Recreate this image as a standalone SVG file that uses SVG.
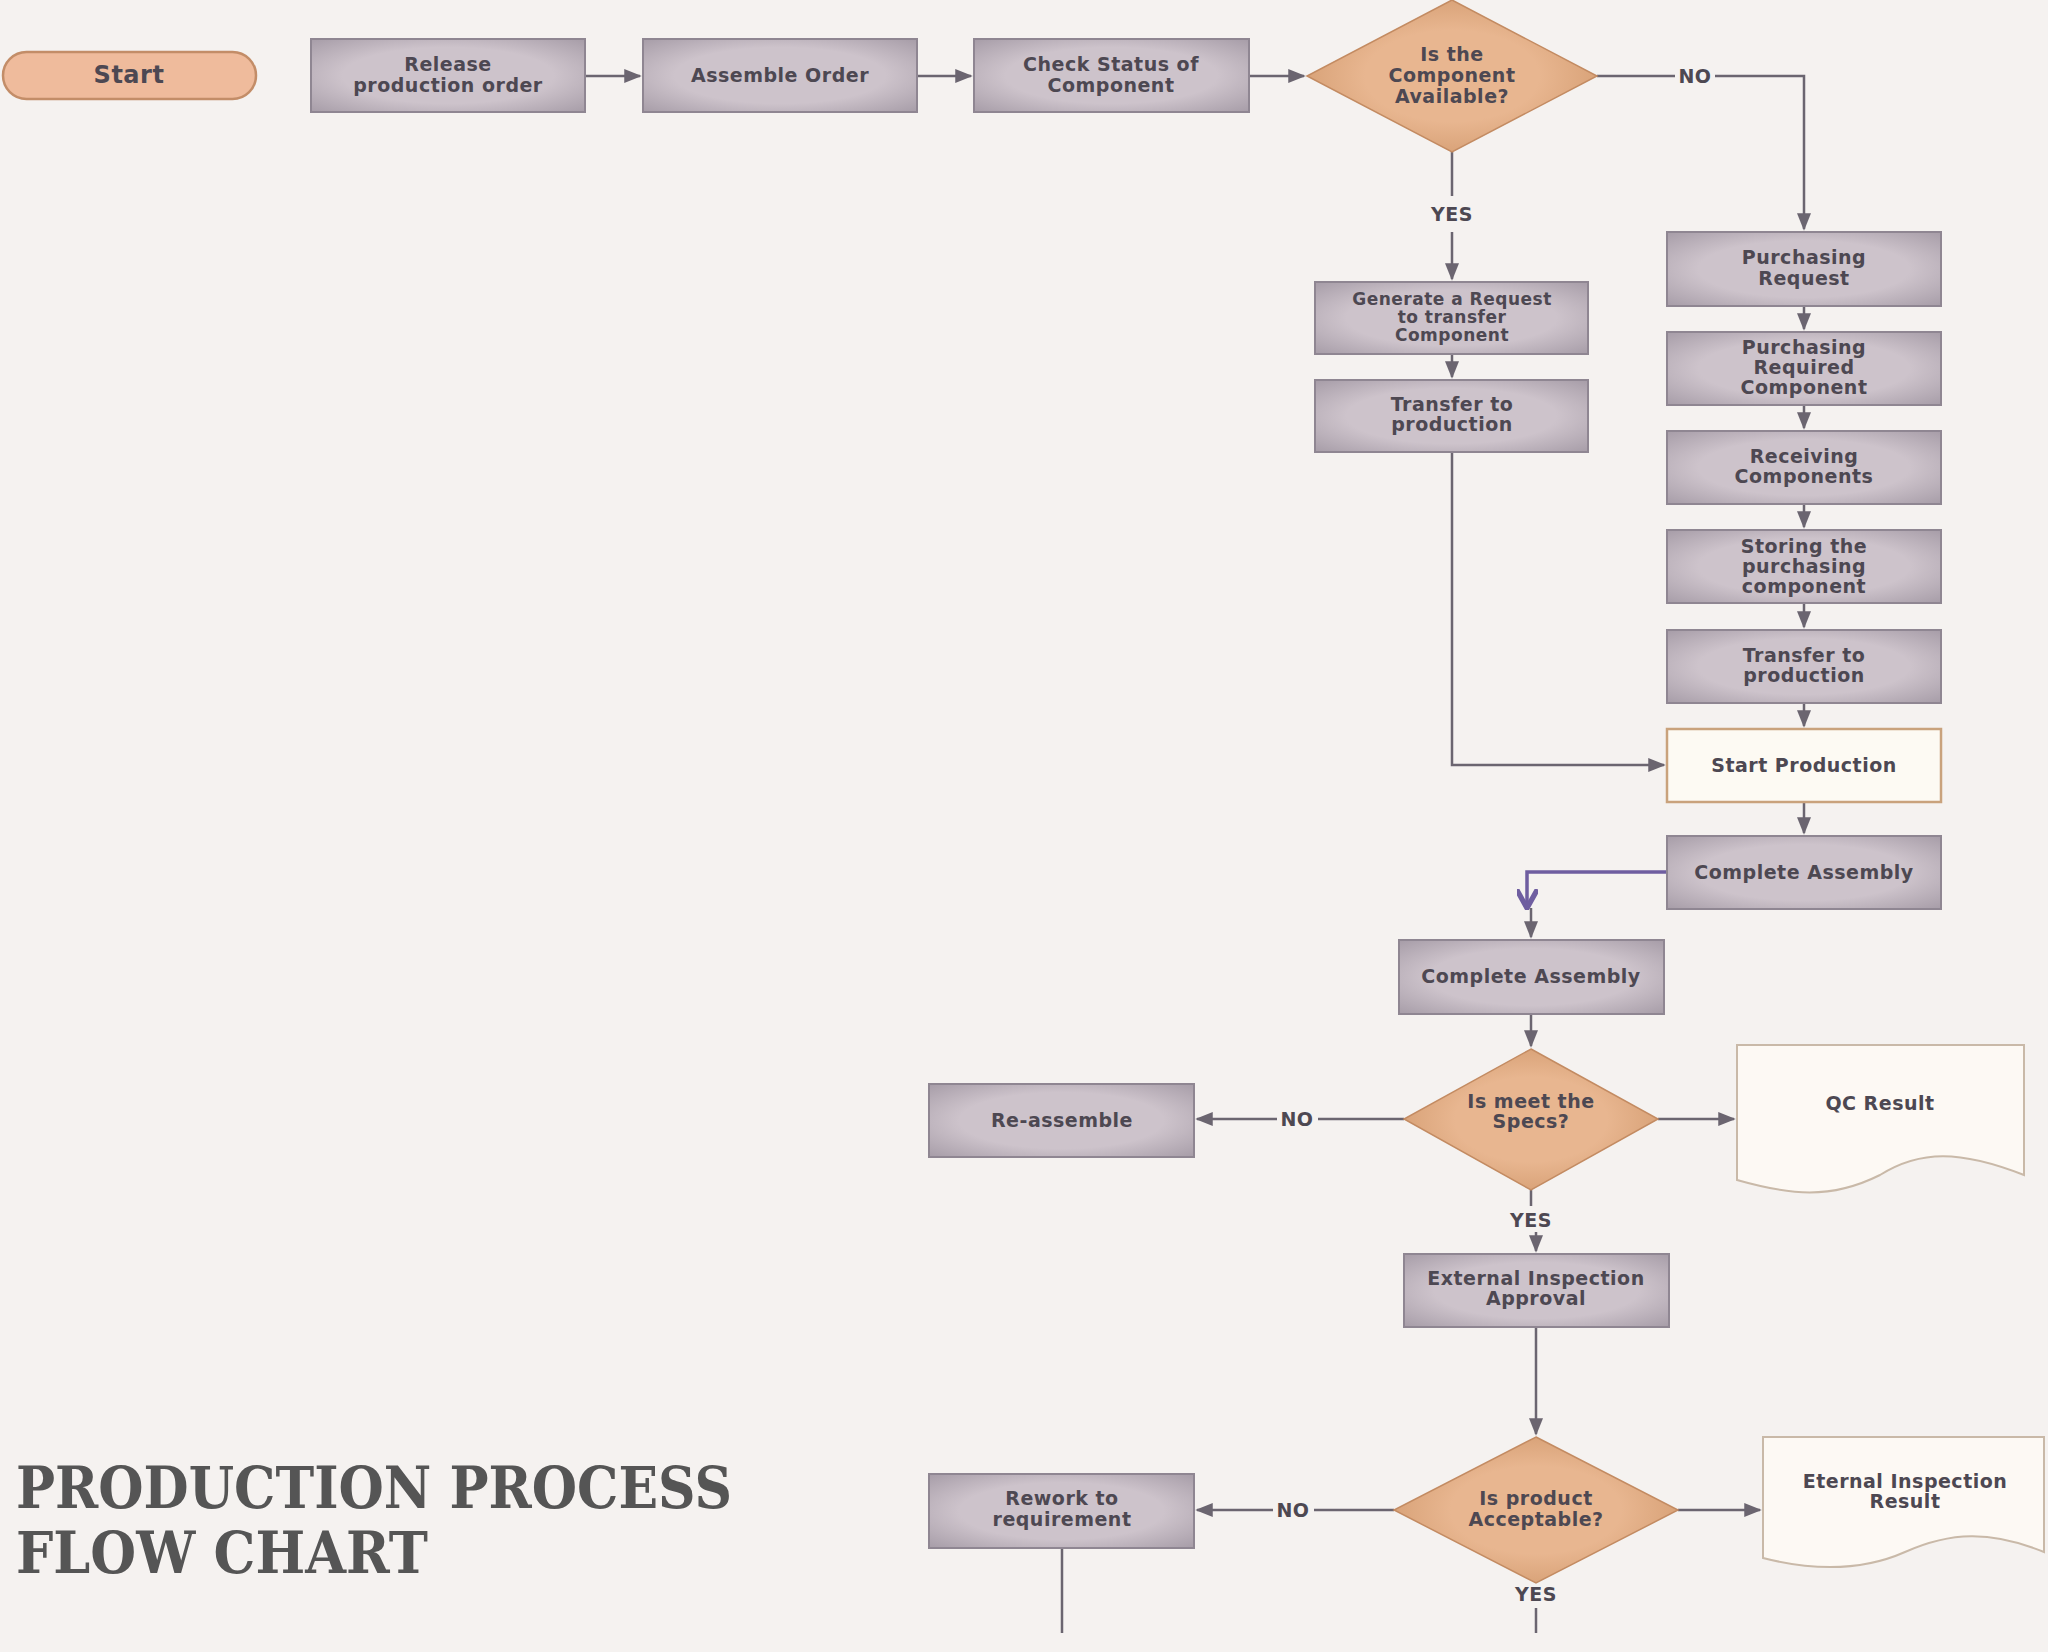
<svg xmlns="http://www.w3.org/2000/svg" width="2048" height="1652" viewBox="0 0 2048 1652">
<defs>
<radialGradient id="boxg" cx="50%" cy="50%" r="70%"><stop offset="0.55" stop-color="#cdc3cb"/><stop offset="1" stop-color="#a79da8"/></radialGradient>
<radialGradient id="dg" cx="50%" cy="50%" r="60%"><stop offset="0.5" stop-color="#e8b690"/><stop offset="1" stop-color="#d29a6e"/></radialGradient>
<marker id="ah" viewBox="0 0 10 10" refX="9" refY="5" markerWidth="7" markerHeight="7" orient="auto"><path d="M0,1 L10,5 L0,9 z" fill="#6b6570"/></marker>
<marker id="ahp" viewBox="0 0 10 10" refX="8" refY="5" markerWidth="6" markerHeight="6" orient="auto"><path d="M0,0 L9,5 L0,10" fill="none" stroke="#6f5ea0" stroke-width="2.5"/></marker>
<style>
.box{fill:url(#boxg);stroke:#8f8692;stroke-width:2}
.dia{fill:url(#dg);stroke:#c38b62;stroke-width:1.5}
.t{font-family:"DejaVu Sans",sans-serif;font-weight:bold;font-size:19px;fill:#4d4852;text-anchor:middle;letter-spacing:0.5px}
.l{fill:none;stroke:#6b6570;stroke-width:2.5}
.doc{fill:#fdf9f4;stroke:#c9b9a8;stroke-width:2}
.title{font-family:"DejaVu Serif","Liberation Serif",serif;font-weight:bold;font-size:58px;fill:#555}
</style>
</defs>
<rect width="2048" height="1652" fill="#f5f2f0"/>
<g id="connectors">
<path class="l" d="M585,76 H640" marker-end="url(#ah)"/>
<path class="l" d="M917,76 H971" marker-end="url(#ah)"/>
<path class="l" d="M1249,76 H1304" marker-end="url(#ah)"/>
<path class="l" d="M1597,76 H1675 M1715,76 H1804 V229" marker-end="url(#ah)"/>
<path class="l" d="M1452,152 V196 M1452,232 V279" marker-end="url(#ah)"/>
<path class="l" d="M1452,354 V377" marker-end="url(#ah)"/>
<path class="l" d="M1452,452 V765 H1664" marker-end="url(#ah)"/>
<path class="l" d="M1804,306 V329" marker-end="url(#ah)"/>
<path class="l" d="M1804,405 V428" marker-end="url(#ah)"/>
<path class="l" d="M1804,504 V527" marker-end="url(#ah)"/>
<path class="l" d="M1804,603 V627" marker-end="url(#ah)"/>
<path class="l" d="M1804,703 V726" marker-end="url(#ah)"/>
<path class="l" d="M1804,802 V833" marker-end="url(#ah)"/>
<path d="M1667,872 H1527 V906" fill="none" stroke="#6f5ea0" stroke-width="3.5" marker-end="url(#ahp)"/>
<path class="l" d="M1531,908 V937" marker-end="url(#ah)"/>
<path class="l" d="M1531,1014 V1046" marker-end="url(#ah)"/>
<path class="l" d="M1404,1119 H1318 M1277,1119 H1197" marker-end="url(#ah)"/>
<path class="l" d="M1658,1119 H1734" marker-end="url(#ah)"/>
<path class="l" d="M1531,1190 V1206 M1536,1232 V1251" marker-end="url(#ah)"/>
<path class="l" d="M1536,1327 V1434" marker-end="url(#ah)"/>
<path class="l" d="M1394,1510 H1314 M1273,1510 H1197" marker-end="url(#ah)"/>
<path class="l" d="M1678,1510 H1760" marker-end="url(#ah)"/>
<path class="l" d="M1062,1548 V1633"/>
<path class="l" d="M1536,1608 V1633"/>
</g>
<g id="labels">
<text class="t" x="1695" y="83">NO</text>
<text class="t" x="1452" y="221">YES</text>
<text class="t" x="1297" y="1126">NO</text>
<text class="t" x="1531" y="1227">YES</text>
<text class="t" x="1293" y="1517">NO</text>
<text class="t" x="1536" y="1601">YES</text>
</g>
<g id="start"><rect x="3" y="52" width="253" height="47" rx="23.5" fill="#efbb9c" stroke="#c38d68" stroke-width="2.5"/><text class="t" x="129" y="83" font-size="24px" style="font-size:24px">Start</text></g>
<g id="release"><rect class="box" x="311" y="39" width="274" height="73"/><text class="t" x="448" y="71">Release</text><text class="t" x="448" y="92">production order</text></g>
<g id="assemble"><rect class="box" x="643" y="39" width="274" height="73"/><text class="t" x="780" y="82">Assemble Order</text></g>
<g id="check"><rect class="box" x="974" y="39" width="275" height="73"/><text class="t" x="1111" y="71">Check Status of</text><text class="t" x="1111" y="92">Component</text></g>
<g id="d1"><polygon class="dia" points="1452,0 1597,76 1452,152 1307,76"/><text class="t" x="1452" y="61">Is the</text><text class="t" x="1452" y="82">Component</text><text class="t" x="1452" y="103">Available?</text></g>
<g id="generate"><rect class="box" x="1315" y="282" width="273" height="72"/><text class="t" x="1452" y="305" style="font-size:17px">Generate a Request</text><text class="t" x="1452" y="323" style="font-size:17px">to transfer</text><text class="t" x="1452" y="341" style="font-size:17px">Component</text></g>
<g id="transfer1"><rect class="box" x="1315" y="380" width="273" height="72"/><text class="t" x="1452" y="411">Transfer to</text><text class="t" x="1452" y="431">production</text></g>
<g id="preq"><rect class="box" x="1667" y="232" width="274" height="74"/><text class="t" x="1804" y="264">Purchasing</text><text class="t" x="1804" y="285">Request</text></g>
<g id="preqc"><rect class="box" x="1667" y="332" width="274" height="73"/><text class="t" x="1804" y="354">Purchasing</text><text class="t" x="1804" y="374">Required</text><text class="t" x="1804" y="394">Component</text></g>
<g id="recv"><rect class="box" x="1667" y="431" width="274" height="73"/><text class="t" x="1804" y="463">Receiving</text><text class="t" x="1804" y="483">Components</text></g>
<g id="store"><rect class="box" x="1667" y="530" width="274" height="73"/><text class="t" x="1804" y="553">Storing the</text><text class="t" x="1804" y="573">purchasing</text><text class="t" x="1804" y="593">component</text></g>
<g id="transfer2"><rect class="box" x="1667" y="630" width="274" height="73"/><text class="t" x="1804" y="662">Transfer to</text><text class="t" x="1804" y="682">production</text></g>
<g id="startprod"><rect x="1667" y="729" width="274" height="73" fill="#fdfaf3" stroke="#c9a27c" stroke-width="2.5"/><text class="t" x="1804" y="772">Start Production</text></g>
<g id="complete1"><rect class="box" x="1667" y="836" width="274" height="73"/><text class="t" x="1804" y="879">Complete Assembly</text></g>
<g id="complete2"><rect class="box" x="1399" y="940" width="265" height="74"/><text class="t" x="1531" y="983">Complete Assembly</text></g>
<g id="d2"><polygon class="dia" points="1531,1049 1658,1119 1531,1190 1404,1119"/><text class="t" x="1531" y="1108">Is meet the</text><text class="t" x="1531" y="1128">Specs?</text></g>
<g id="reassemble"><rect class="box" x="929" y="1084" width="265" height="73"/><text class="t" x="1062" y="1127">Re-assemble</text></g>
<g id="qc"><path class="doc" d="M1737,1045 H2024 V1175 C1960,1150 1920,1150 1880,1175 C1830,1200 1790,1195 1737,1180 Z"/><text class="t" x="1880" y="1110">QC Result</text></g>
<g id="extapp"><rect class="box" x="1404" y="1254" width="265" height="73"/><text class="t" x="1536" y="1285">External Inspection</text><text class="t" x="1536" y="1305">Approval</text></g>
<g id="d3"><polygon class="dia" points="1536,1437 1678,1510 1536,1583 1394,1510"/><text class="t" x="1536" y="1505">Is product</text><text class="t" x="1536" y="1526">Acceptable?</text></g>
<g id="rework"><rect class="box" x="929" y="1474" width="265" height="74"/><text class="t" x="1062" y="1505">Rework to</text><text class="t" x="1062" y="1526">requirement</text></g>
<g id="eternal"><path class="doc" d="M1763,1437 H2044 V1552 C1990,1530 1950,1532 1905,1552 C1860,1572 1810,1570 1763,1558 Z"/><text class="t" x="1905" y="1488">Eternal Inspection</text><text class="t" x="1905" y="1508">Result</text></g>
<g id="title"><text class="title" x="16" y="1508" textLength="716" lengthAdjust="spacingAndGlyphs">PRODUCTION PROCESS</text><text class="title" x="16" y="1573" textLength="412" lengthAdjust="spacingAndGlyphs">FLOW CHART</text></g>
</svg>
